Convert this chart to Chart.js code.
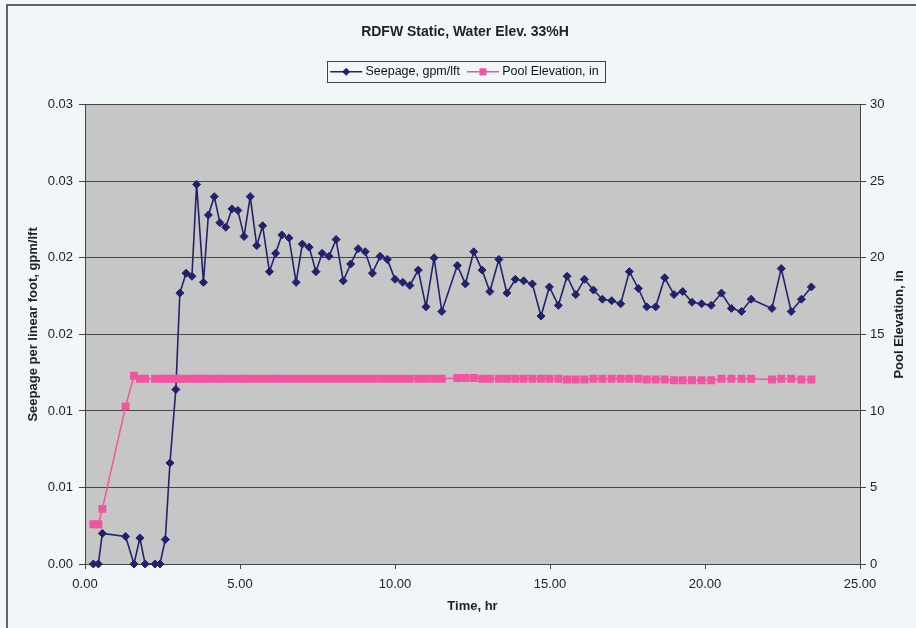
<!DOCTYPE html>
<html>
<head>
<meta charset="utf-8">
<title>RDFW Static, Water Elev. 33%H</title>
<script src="https://cdn.jsdelivr.net/npm/chart.js@4.4.0/dist/chart.umd.min.js"></script>
<style>
  html, body { margin: 0; padding: 0; background: #f1f7f9; }
  canvas { display: block; }
</style>
</head>
<body>
<canvas id="seepageChart" width="916" height="628"></canvas>
<script>
/* RDFW static test: seepage and pool elevation over time. */
const timeHr = [
  0.27, 0.43, 0.56, 1.31, 1.58, 1.77, 1.94, 2.26, 2.42, 2.59,
  2.74, 2.93, 3.06, 3.26, 3.45, 3.60, 3.82, 3.98, 4.17, 4.35,
  4.54, 4.74, 4.93, 5.13, 5.33, 5.54, 5.73, 5.95, 6.15, 6.35,
  6.58, 6.81, 7.01, 7.23, 7.45, 7.65, 7.87, 8.10, 8.33, 8.57,
  8.81, 9.04, 9.27, 9.52, 9.75, 10.00, 10.25, 10.48, 10.75, 11.00,
  11.26, 11.51, 12.01, 12.27, 12.54, 12.81, 13.06, 13.35, 13.61, 13.88,
  14.15, 14.43, 14.71, 14.98, 15.27, 15.55, 15.83, 16.11, 16.40, 16.69,
  16.99, 17.28, 17.56, 17.85, 18.12, 18.41, 18.70, 19.00, 19.28, 19.58,
  19.89, 20.20, 20.53, 20.85, 21.18, 21.49, 22.16, 22.46, 22.78, 23.11,
  23.43
];
const seepage = [
  0, 0, 0.0020, 0.0018, 0, 0.0017, 0, 0, 0, 0.0016,
  0.0066, 0.0114, 0.0177, 0.0190, 0.0188, 0.0248, 0.0184, 0.0228, 0.0240, 0.0223,
  0.0220, 0.0232, 0.0231, 0.0214, 0.0240, 0.0208, 0.0221, 0.0191, 0.0203, 0.0215,
  0.0213, 0.0184, 0.0209, 0.0207, 0.0191, 0.0203, 0.0201, 0.0212, 0.0185, 0.0196,
  0.0206, 0.0204, 0.0190, 0.0201, 0.0199, 0.0186, 0.0184, 0.0182, 0.0192, 0.0168,
  0.0200, 0.0165, 0.0195, 0.0183, 0.0204, 0.0192, 0.0178, 0.0199, 0.0177, 0.0186,
  0.0185, 0.0183, 0.0162, 0.0181, 0.0169, 0.0188, 0.0176, 0.0186, 0.0179, 0.0173,
  0.0172, 0.0170, 0.0191, 0.0180, 0.0168, 0.0168, 0.0187, 0.0176, 0.0178, 0.0171,
  0.0170, 0.0169, 0.0177, 0.0167, 0.0165, 0.0173, 0.0167, 0.0193, 0.0165, 0.0173,
  0.0181
];
const poolElev = [
  2.6, 2.6, 3.6, 10.3, 12.3, 12.1, 12.1, 12.1, 12.1, 12.1,
  12.1, 12.1, 12.1, 12.1, 12.1, 12.1, 12.1, 12.1, 12.1, 12.1,
  12.1, 12.1, 12.1, 12.1, 12.1, 12.1, 12.1, 12.1, 12.1, 12.1,
  12.1, 12.1, 12.1, 12.1, 12.1, 12.1, 12.1, 12.1, 12.1, 12.1,
  12.1, 12.1, 12.1, 12.1, 12.1, 12.1, 12.1, 12.1, 12.1, 12.1,
  12.1, 12.1, 12.15, 12.15, 12.15, 12.1, 12.1, 12.1, 12.1, 12.1,
  12.1, 12.1, 12.1, 12.1, 12.1, 12.05, 12.05, 12.05, 12.1, 12.1,
  12.1, 12.1, 12.1, 12.1, 12.05, 12.05, 12.05, 12.0, 12.0, 12.0,
  12.0, 12.0, 12.1, 12.1, 12.1, 12.1, 12.05, 12.1, 12.1, 12.05,
  12.05
];
const xTickLabels = ['0.00', '5.00', '10.00', '15.00', '20.00', '25.00'];
const seepTickLabels = ['0.00', '0.01', '0.01', '0.02', '0.02', '0.03', '0.03'];
const poolTickLabels = ['0', '5', '10', '15', '20', '25', '30'];

const FONT = 'Arial, "Liberation Sans", sans-serif';
const NAVY = '#22226c';
const PINK = '#f2559f';
const INK = '#222';
const GRID = '#454545';

// page frame, plot background, rotated axis titles, boxed legend samples
const decor = {
  id: 'decor',
  beforeDraw(chart) {
    const { ctx, chartArea: a } = chart;
    ctx.save();
    ctx.fillStyle = '#f1f7f9';
    ctx.fillRect(0, 0, chart.width, chart.height);
    ctx.strokeStyle = '#333';
    ctx.lineWidth = 1.5;
    ctx.beginPath();
    ctx.moveTo(7, chart.height);
    ctx.lineTo(7, 5);
    ctx.lineTo(chart.width, 5);
    ctx.stroke();
    ctx.fillStyle = '#c6c6c6';
    ctx.fillRect(a.left, a.top, a.right - a.left, a.bottom - a.top);
    ctx.restore();
  },
  afterDraw(chart) {
    const { ctx, chartArea: a } = chart;
    ctx.save();
    ctx.fillStyle = INK;
    ctx.font = 'bold 13px ' + FONT;
    ctx.textAlign = 'center';
    ctx.textBaseline = 'middle';
    const midY = (a.top + a.bottom) / 2 - 10;
    [[a.left - 52, 'Seepage per linear foot, gpm/lft'], [a.right + 39, 'Pool Elevation, in']].forEach(([x, t]) => {
      ctx.save();
      ctx.translate(x, midY);
      ctx.rotate(-Math.PI / 2);
      ctx.fillText(t, 0, 0);
      ctx.restore();
    });

    // legend: line + marker samples and the surrounding box
    const hb = chart.legend.legendHitBoxes;
    if (hb && hb.length) {
      const cy = hb[0].top + hb[0].height / 2;
      const colors = [NAVY, PINK];
      hb.forEach((b, i) => {
        const x0 = b.left - 1, x1 = b.left + 31, cx = (x0 + x1) / 2;
        ctx.strokeStyle = colors[i];
        ctx.fillStyle = colors[i];
        ctx.lineWidth = 1.5;
        ctx.beginPath();
        ctx.moveTo(x0, cy);
        ctx.lineTo(x1, cy);
        ctx.stroke();
        ctx.beginPath();
        if (i === 0) {
          ctx.moveTo(cx, cy - 4); ctx.lineTo(cx + 4, cy);
          ctx.lineTo(cx, cy + 4); ctx.lineTo(cx - 4, cy);
          ctx.closePath();
        } else {
          ctx.rect(cx - 3.5, cy - 3.5, 7, 7);
        }
        ctx.fill();
      });
      const last = hb[hb.length - 1];
      ctx.strokeStyle = '#444';
      ctx.lineWidth = 1;
      ctx.strokeRect(Math.round(hb[0].left - 4) + 0.5, Math.round(cy - 11) + 0.5,
        Math.round(last.left + last.width - hb[0].left + 10), 21);
    }
    ctx.restore();
  }
};

const ctx = document.getElementById('seepageChart');
new Chart(ctx, {
  type: 'line',
  data: {
    datasets: [
      {
        label: 'Seepage, gpm/lft',
        data: timeHr.map((t, i) => ({ x: t, y: seepage[i] })),
        yAxisID: 'y',
        borderColor: NAVY,
        backgroundColor: NAVY,
        borderWidth: 1.6,
        pointStyle: 'rectRot',
        pointRadius: 4,
        pointBorderWidth: 1,
        tension: 0,
        clip: 10,
        order: 1,
      },
      {
        label: 'Pool Elevation, in',
        data: timeHr.map((t, i) => ({ x: t, y: poolElev[i] })),
        yAxisID: 'y1',
        borderColor: PINK,
        backgroundColor: PINK,
        borderWidth: 1.5,
        pointStyle: 'rect',
        pointRadius: 5.6,
        pointBorderWidth: 0,
        tension: 0,
        clip: 10,
        order: 0,
      },
    ],
  },
  options: {
    responsive: false,
    animation: false,
    layout: { padding: { left: 14, right: 0, top: 0, bottom: 0 } },
    plugins: {
      title: {
        display: true,
        text: 'RDFW Static, Water Elev. 33%H',
        color: INK,
        font: { family: FONT, size: 14, weight: 'bold' },
        padding: { top: 24, bottom: 0 },
      },
      legend: {
        position: 'top',
        labels: {
          color: '#111',
          font: { family: FONT, size: 12.5 },
          boxWidth: 28,
          boxHeight: 46,
          padding: 8,
          generateLabels: (chart) => chart.data.datasets.map((d, i) => ({
            text: d.label,
            datasetIndex: i,
            fillStyle: 'rgba(0,0,0,0)',
            strokeStyle: 'rgba(0,0,0,0)',
            lineWidth: 0,
            hidden: false,
            fontColor: '#111',
          })),
        },
      },
      tooltip: { enabled: false },
    },
    scales: {
      x: {
        type: 'linear',
        position: 'bottom',
        min: 0,
        max: 25,
        ticks: {
          stepSize: 5,
          callback: (v) => xTickLabels[Math.round(v / 5)],
          color: INK,
          font: { family: FONT, size: 13 },
          padding: 8,
          maxRotation: 0,
        },
        grid: { drawOnChartArea: false, tickLength: 5, color: GRID },
        border: { color: GRID, width: 1 },
        title: {
          display: true,
          text: 'Time, hr',
          color: INK,
          font: { family: FONT, size: 13, weight: 'bold' },
          padding: { top: 0, bottom: 14 },
        },
        afterFit: (s) => { s.height = 64; },
      },
      y: {
        position: 'left',
        min: 0,
        max: 0.03,
        ticks: {
          stepSize: 0.005,
          callback: (v) => seepTickLabels[Math.round(v / 0.005)],
          color: INK,
          font: { family: FONT, size: 13 },
          padding: 6,
        },
        grid: { color: GRID, tickLength: 6 },
        border: { color: GRID, width: 1 },
        afterFit: (s) => { s.width = 71; },
      },
      y1: {
        position: 'right',
        min: 0,
        max: 30,
        ticks: {
          stepSize: 5,
          callback: (v) => poolTickLabels[Math.round(v / 5)],
          color: INK,
          font: { family: FONT, size: 13 },
          padding: 4,
        },
        grid: { drawOnChartArea: false, tickLength: 6, color: GRID },
        border: { color: GRID, width: 1 },
        afterFit: (s) => { s.width = 56; },
      },
    },
  },
  plugins: [decor],
});
</script>
</body>
</html>
